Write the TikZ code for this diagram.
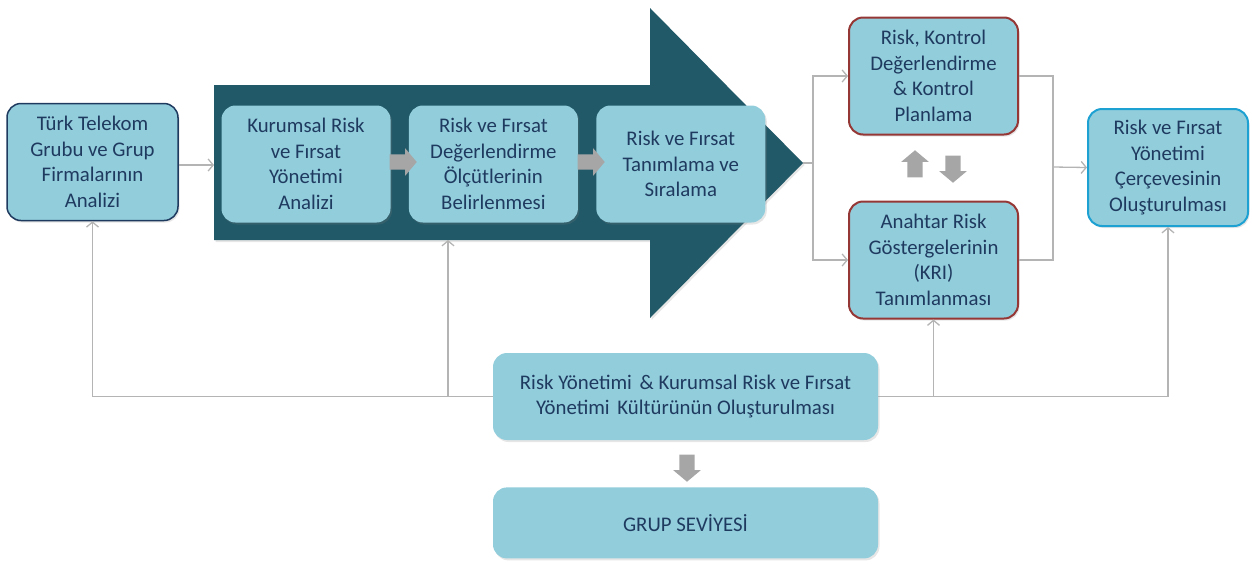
\documentclass[tikz,border=0pt]{standalone}
\usepackage{fontspec}
\setmainfont{Carlito}
\usetikzlibrary{positioning, arrows.meta, shapes.arrows, shadows}

\definecolor{boxblue}{HTML}{92CDDC}
\definecolor{darkteal}{HTML}{215968}
\definecolor{navytext}{HTML}{1F3A5F}
\definecolor{navyline}{HTML}{1F3A5F}
\definecolor{linegray}{HTML}{B4B4B4}
\definecolor{arrowgray}{HTML}{A6A6A6}
\definecolor{redline}{HTML}{953735}
\definecolor{cyanline}{HTML}{1DA1D2}

\tikzset{
  box/.style={rectangle, rounded corners=14pt, fill=boxblue, text=navytext,
    align=center, minimum width=169pt, minimum height=117pt, inner sep=2pt,
    font=\fontsize{20.8}{25.5}\selectfont,
    drop shadow={shadow xshift=1.5pt, shadow yshift=-2pt, opacity=0.2}},
  blockarrow/.style={single arrow, fill=arrowgray, inner sep=7.5pt,
    minimum height=27pt, single arrow head extend=6pt, single arrow tip angle=100},
  conn/.style={draw=linegray, line width=1.3pt}
}

\begin{document}
\begin{tikzpicture}[x=1pt, y=-1pt, node distance=18pt,
  >={Straight Barb[length=5pt,width=12pt]}]
\useasboundingbox (0,0) rectangle (1252,563);

% big process arrow
\fill[darkteal, drop shadow={shadow xshift=1.5pt, shadow yshift=-2pt, opacity=0.2}]
  (214,85) -- (650,85) -- (650,8) -- (803,163) -- (650,318) -- (650,240)
  -- (214,240) -- cycle;
\coordinate (arrowin) at (214,165);
\coordinate (arrowtip) at (803,163);
\coordinate (arrowbase) at (448,240);
\coordinate (split) at (813,163);
\coordinate (join) at (1053,167);

\node[box, draw=navyline, line width=1.5pt, minimum width=171pt] (tt) at (92.5,162)
  {Türk Telekom\\Grubu ve Grup\\Firmalarının\\Analizi};
\node[box] (k1) at (306,164)
  {Kurumsal Risk\\ve Fırsat\\Yönetimi\\Analizi};
\node[box, right=of k1] (k2)
  {Risk ve Fırsat\\Değerlendirme\\Ölçütlerinin\\Belirlenmesi};
\node[box, right=of k2] (k3)
  {Risk ve Fırsat\\Tanımlama ve\\Sıralama};

\node[blockarrow] (a1) at (400,162) {};
\node[blockarrow] (a2) at (588,162) {};

\node[box, draw=redline, line width=2pt] (rk) at (933.5,76)
  {Risk, Kontrol\\Değerlendirme\\\& Kontrol\\Planlama};
\node[box, draw=redline, line width=2pt, below=65pt of rk] (kri)
  {Anahtar Risk\\Göstergelerinin\\(KRI)\\Tanımlanması};
\node[blockarrow, shape border rotate=90] (up) at (915,167) {};
\node[blockarrow, shape border rotate=270] (down) at (953,166) {};

\node[box, draw=cyanline, line width=2pt, minimum width=160pt] (rf) at (1168,167.5)
  {Risk ve Fırsat\\Yönetimi\\Çerçevesinin\\Oluşturulması};

\node[box, minimum width=385pt, minimum height=87pt] (kul) at (685.5,396.5)
  {Risk Yönetimi\hspace{3pt} \& Kurumsal Risk ve Fırsat\\Yönetimi\hspace{3pt} Kültürünün Oluşturulması};
\node[blockarrow, shape border rotate=270] (a3) at (687,465) {};
\node[box, minimum width=385pt, minimum height=71pt, below=47pt of kul] (grup)
  {GRUP SEVİYESİ};

% connectors
\draw[conn, ->] (tt.east |- arrowin) -- (arrowin);
\draw[conn] (arrowtip) -- (split);
\draw[conn, <->] (rk.west) -| (split) |- (kri.west);
\draw[conn] (rk.east) -| (join) |- (kri.east);
\draw[conn, ->] (join) -- (rf.west);
\draw[conn] (tt.south |- kul) -- (kul.west);
\draw[conn] (kul.east) -- (rf.south |- kul);
\draw[conn, ->] (tt.south |- kul) -- (tt.south);
\draw[conn, ->] (arrowbase |- kul) -- (arrowbase);
\draw[conn, ->] (kri.south |- kul) -- (kri.south);
\draw[conn, ->] (rf.south |- kul) -- (rf.south);
\end{tikzpicture}
\end{document}
